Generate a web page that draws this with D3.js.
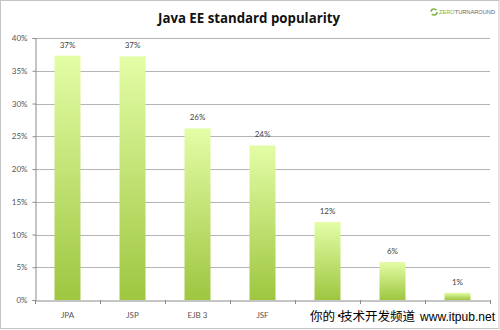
<!DOCTYPE html>
<html><head><meta charset="utf-8">
<script src="https://cdn.jsdelivr.net/npm/d3@7"></script>
<style>body{margin:0;background:#fff}svg{display:block}</style>
</head><body>
<script>
const categories = ["JPA", "JSP", "EJB 3", "JSF", "EJB 2", "JSF 2", "EJB 1"];
const values = [37.3, 37.2, 26.2, 23.6, 11.9, 5.8, 1.1];
const valueLabels = ["37%", "37%", "26%", "24%", "12%", "6%", "1%"];
const yTicks = [0, 5, 10, 15, 20, 25, 30, 35, 40];
const title = "Java EE standard popularity";

const W = 500, H = 330;
const svg = d3.select("body").append("svg").attr("width", W).attr("height", H);

const defs = svg.append("defs");
const g = defs.append("linearGradient").attr("id", "barGrad").attr("x1", 0).attr("y1", 0).attr("x2", 0).attr("y2", 1);
g.append("stop").attr("offset", "0%").attr("stop-color", "#e3fda6");
g.append("stop").attr("offset", "100%").attr("stop-color", "#9ec640");

svg.append("rect").attr("x", 0.5).attr("y", 0.5).attr("width", W - 1.5).attr("height", H - 2)
  .attr("fill", "#fff").attr("stroke", "#c4c4c4");

const x = d3.scaleBand().domain(categories).range([35, 490]).padding(0);
const y = d3.scaleLinear().domain([0, 40]).range([300, 38]);

svg.append("text").attr("x", 249).attr("y", 23).attr("text-anchor", "middle")
  .attr("font-family", "Open Sans").attr("font-weight", "bold").attr("font-size", 13.5)
  .attr("fill", "#111").attr("textLength", 182).attr("lengthAdjust", "spacingAndGlyphs").text(title);

const logo = svg.append("g").attr("transform", "translate(434,12)");
logo.append("circle").attr("r", 3).attr("fill", "none").attr("stroke", "#7cb342").attr("stroke-width", 1.6)
  .attr("stroke-dasharray", "7 2.5");
logo.append("text").attr("x", 5).attr("y", 2).attr("font-family", "Liberation Sans").attr("font-size", 6)
  .attr("fill", "#666").attr("textLength", 56).attr("lengthAdjust", "spacingAndGlyphs")
  .html('<tspan fill="#7cb342">ZERO</tspan>TURNAROUND');

svg.append("g").selectAll("line").data(yTicks.filter(d => d > 0)).join("line")
  .attr("x1", 35).attr("x2", 490).attr("y1", d => Math.round(y(d)) + 0.5).attr("y2", d => Math.round(y(d)) + 0.5)
  .attr("stroke", "#b4b4b4").attr("stroke-width", 1);

const yAxis = d3.axisLeft(y).tickValues(yTicks).tickFormat(d => d + "%").tickSize(3).tickPadding(5);
const ya = svg.append("g").attr("transform", "translate(35.5,0)").call(yAxis);
ya.select(".domain").attr("stroke", "#8a8a8a");
ya.selectAll(".tick line").attr("stroke", "#8a8a8a");
ya.selectAll("text").attr("font-family", "Lato").attr("font-size", 8).attr("fill", "#555");

const bw = x.bandwidth() * 0.4;
svg.append("g").selectAll("rect").data(values).join("rect")
  .attr("x", (d, i) => x(categories[i]) + (x.bandwidth() - bw) / 2)
  .attr("y", d => y(d)).attr("width", bw).attr("height", d => y(0) - y(d))
  .attr("fill", "url(#barGrad)");

svg.append("g").selectAll("text").data(values).join("text")
  .attr("x", (d, i) => x(categories[i]) + x.bandwidth() / 2)
  .attr("y", d => y(d) - 8).attr("text-anchor", "middle")
  .attr("font-family", "Lato").attr("font-size", 8).attr("fill", "#444")
  .text((d, i) => valueLabels[i]);

const xAxis = d3.axisBottom(x).tickSize(0).tickPadding(12);
const xa = svg.append("g").attr("transform", "translate(0,300.5)").call(xAxis);
xa.select(".domain").attr("stroke", "#8a8a8a");
xa.selectAll("text").attr("font-family", "Lato").attr("font-size", 8).attr("fill", "#555");
svg.append("g").selectAll("line").data(d3.range(categories.length + 1)).join("line")
  .attr("x1", i => Math.round(35 + i * x.step()) + 0.5).attr("x2", i => Math.round(35 + i * x.step()) + 0.5)
  .attr("y1", 300).attr("y2", 304).attr("stroke", "#8a8a8a");

// watermark overlay
svg.append("rect").attr("x", 306).attr("y", 305).attr("width", 192).attr("height", 21)
  .attr("fill", "#fff").attr("opacity", 0.82);
const wm = svg.append("text").attr("y", 321).attr("font-family", "Noto Sans CJK SC")
  .attr("font-size", 12.5).attr("fill", "#000");
wm.append("tspan").attr("x", 310).text("你的");
wm.append("tspan").attr("x", 333).text("•");
wm.append("tspan").attr("x", 340).attr("textLength", 75).attr("lengthAdjust", "spacingAndGlyphs").text("技术开发频道");
svg.append("text").attr("x", 420).attr("y", 321).attr("font-family", "Liberation Sans")
  .attr("font-size", 12).attr("fill", "#000").attr("textLength", 75).attr("lengthAdjust", "spacingAndGlyphs")
  .text("www.itpub.net");
</script>
</body></html>
